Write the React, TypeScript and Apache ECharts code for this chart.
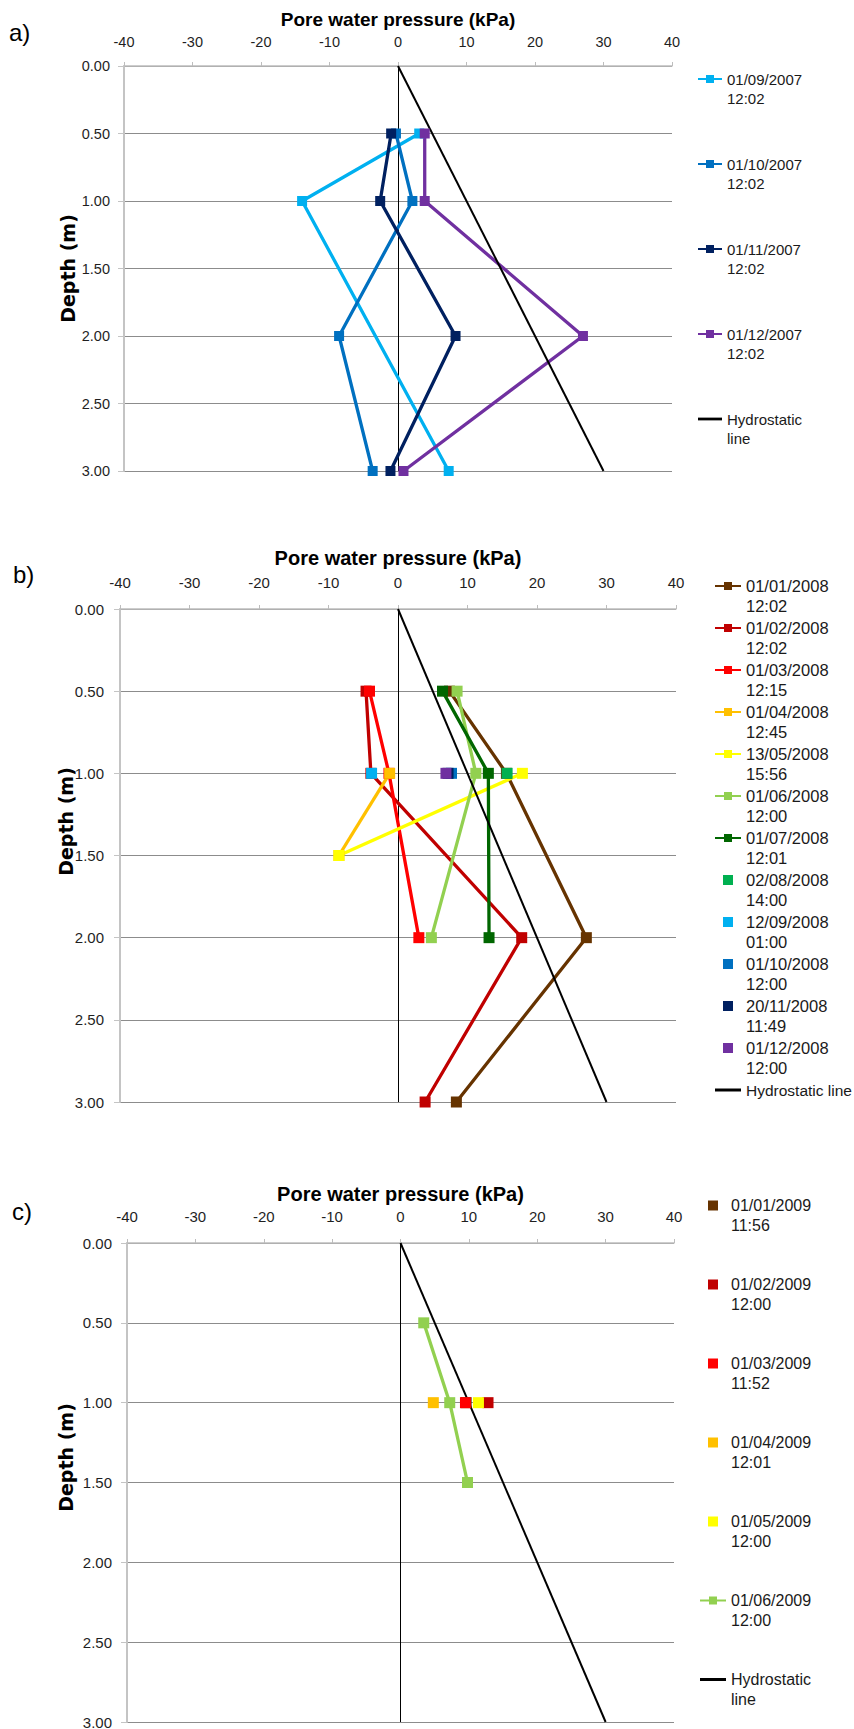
import React, { useEffect, useRef } from 'react';
import * as echarts from 'echarts';

const FONT = "'Liberation Sans', Arial, sans-serif";
const NAME_FONT = "'DejaVu Sans', Verdana, sans-serif";

const X_TITLE = 'Pore water pressure (kPa)';
const Y_TITLE = 'Depth (m)';
const PANEL_LABELS = ['a)', 'b)', 'c)'];

// Hydrostatic line (kPa vs depth m)
const HYDRO_DEPTH = [0, 3];
const HYDRO_PWP = [0, 30];
const ZERO_PWP = 0;
const HYDRO_NAME_2L = 'Hydrostatic\nline';
const HYDRO_NAME_1L = 'Hydrostatic line';

// ---------- panel a ----------
const A_0907_DEPTH = [0.5, 1.0, 3.0];
const A_0907_PWP = [3.1, -14.0, 7.4];
const A_1007_DEPTH = [0.5, 1.0, 2.0, 3.0];
const A_1007_PWP = [-0.3, 2.1, -8.6, -3.7];
const A_1107_DEPTH = [0.5, 1.0, 2.0, 3.0];
const A_1107_PWP = [-1.0, -2.6, 8.4, -1.1];
const A_1207_DEPTH = [0.5, 1.0, 2.0, 3.0];
const A_1207_PWP = [3.9, 3.9, 27.0, 0.8];

// ---------- panel b ----------
const B_0108_DEPTH = [0.5, 1.0, 2.0, 3.0];
const B_0108_PWP = [7.4, 15.6, 27.1, 8.4];
const B_0208_DEPTH = [0.5, 1.0, 2.0, 3.0];
const B_0208_PWP = [-4.6, -3.9, 17.8, 3.9];
const B_0308_DEPTH = [0.5, 1.0, 2.0];
const B_0308_PWP = [-4.1, -1.3, 3.0];
const B_0408_DEPTH = [1.0, 1.5];
const B_0408_PWP = [-1.2, -8.5];
const B_0508_DEPTH = [1.0, 1.5];
const B_0508_PWP = [17.9, -8.5];
const B_0608_DEPTH = [0.5, 1.0, 2.0];
const B_0608_PWP = [8.5, 11.2, 4.8];
const B_0708_DEPTH = [0.5, 1.0, 2.0];
const B_0708_PWP = [6.4, 13.0, 13.1];
const B_0808_DEPTH = [1.0];
const B_0808_PWP = [15.7];
const B_0908_DEPTH = [1.0];
const B_0908_PWP = [-3.8];
const B_1008_DEPTH = [1.0];
const B_1008_PWP = [7.7];
const B_1108_DEPTH = [1.0];
const B_1108_PWP = [7.2];
const B_1208_DEPTH = [1.0];
const B_1208_PWP = [6.9];

// ---------- panel c ----------
const C_0109_DEPTH = [1.0];
const C_0109_PWP = [9.6];
const C_0209_DEPTH = [1.0];
const C_0209_PWP = [12.8];
const C_0309_DEPTH = [1.0];
const C_0309_PWP = [9.5];
const C_0409_DEPTH = [1.0];
const C_0409_PWP = [4.8];
const C_0509_DEPTH = [1.0];
const C_0509_PWP = [11.4];
const C_0609_DEPTH = [0.5, 1.0, 1.5];
const C_0609_PWP = [3.4, 7.2, 9.8];

const zip = (pwp: number[], depth: number[]) => pwp.map((p, i) => [p, depth[i]]);

const SQUARE_ICON = 'path://M0,0H10V10H0Z';
const LINE_ICON = 'path://M0,0H26V3H0Z';

function lineS(name: string, color: string, pwp: number[], depth: number[], gi: number, size: number) {
  return {
    type: 'line', name, xAxisIndex: gi, yAxisIndex: gi, data: zip(pwp, depth),
    symbol: 'rect', symbolSize: size, showSymbol: true, showAllSymbol: true,
    lineStyle: { color, width: 3.3 }, itemStyle: { color },
    emphasis: { disabled: true }, silent: true, z: 3,
  };
}
function dotS(name: string, color: string, pwp: number[], depth: number[], gi: number, size: number) {
  return {
    type: 'scatter', name, xAxisIndex: gi, yAxisIndex: gi, data: zip(pwp, depth),
    symbol: 'rect', symbolSize: size, itemStyle: { color, opacity: 1 },
    emphasis: { disabled: true }, silent: true, z: 3,
  };
}
function hydroS(name: string, gi: number) {
  return {
    type: 'line', name, xAxisIndex: gi, yAxisIndex: gi, data: zip(HYDRO_PWP, HYDRO_DEPTH),
    symbol: 'none', lineStyle: { color: '#000', width: 2 }, itemStyle: { color: '#000' },
    emphasis: { disabled: true }, silent: true, z: 3,
    markLine: {
      silent: true, symbol: ['none', 'none'], label: { show: false }, z: 2,
      lineStyle: { color: '#000', width: 1, type: 'solid' }, emphasis: { disabled: true },
      data: [{ xAxis: ZERO_PWP }],
    },
  };
}

const GRIDS = [
  { left: 124, top: 66, width: 548, height: 405 },
  { left: 120, top: 609, width: 556, height: 493 },
  { left: 127, top: 1243, width: 547, height: 479 },
];
const X_LABEL_MARGIN = [16.5, 19, 19.5];
const X_FONT = [14.5, 15, 15];
const X_NAME_GAP = [37.5, 41.5, 39];
const X_NAME_FONT = [19, 20, 20];
const Y_LABEL_MARGIN = [14, 16, 15];
const Y_NAME_GAP = [46.5, 44.5, 51.5];
const Y_NAME_SHIFT = [0, 68, 50];
const LABEL_POS = [[9, 32], [13, 574], [12, 1211]];

export default function App() {
  const ref = useRef<HTMLDivElement>(null);
  useEffect(() => {
    if (!ref.current) return;
    const chart = echarts.init(ref.current, undefined, { renderer: 'svg' });

    const xAxis = GRIDS.map((_, i) => ({
      type: 'value', gridIndex: i, position: 'top', min: -40, max: 40, interval: 10,
      axisLine: { show: true, onZero: false, lineStyle: { color: '#bdbdbd', width: 1.5 } },
      axisTick: { show: true, length: 4, lineStyle: { color: '#bdbdbd' } },
      axisLabel: { margin: X_LABEL_MARGIN[i], fontSize: X_FONT[i], color: '#1f1f1f', fontFamily: FONT },
      splitLine: { show: false },
      name: X_TITLE, nameLocation: 'middle', nameGap: X_NAME_GAP[i], nameMoveOverlap: false,
      nameTextStyle: { fontFamily: FONT, fontWeight: 'bold', fontSize: X_NAME_FONT[i], color: '#000' },
    }));
    const yAxis = GRIDS.map((_, i) => ({
      type: 'value', gridIndex: i, inverse: true, min: 0, max: 3, interval: 0.5,
      axisLine: { show: true, onZero: false, lineStyle: { color: '#c4c4c4', width: 2 } },
      axisTick: { show: true, length: 6, lineStyle: { color: '#c4c4c4' } },
      axisLabel: { margin: Y_LABEL_MARGIN[i], fontSize: i === 0 ? 14.5 : 15, color: '#1f1f1f', fontFamily: FONT, formatter: (v: number) => v.toFixed(2) },
      splitLine: { show: true, lineStyle: { color: '#8c8c8c', width: 1 } },
      name: Y_TITLE, nameLocation: 'middle', nameGap: Y_NAME_GAP[i], nameRotate: 90, nameMoveOverlap: false,
      nameTextStyle: { fontFamily: NAME_FONT, fontWeight: 'bold', fontSize: 19, color: '#000', padding: [0, 0, 0, Y_NAME_SHIFT[i]] },
    }));

    const A_NAMES = ['01/09/2007\n12:02', '01/10/2007\n12:02', '01/11/2007\n12:02', '01/12/2007\n12:02'];
    const B_NAMES = ['01/01/2008\n12:02', '01/02/2008\n12:02', '01/03/2008\n12:15', '01/04/2008\n12:45', '13/05/2008\n15:56', '01/06/2008\n12:00', '01/07/2008\n12:01', '02/08/2008\n14:00', '12/09/2008\n01:00', '01/10/2008\n12:00', '20/11/2008\n11:49', '01/12/2008\n12:00'];
    const C_NAMES = ['01/01/2009\n11:56', '01/02/2009\n12:00', '01/03/2009\n11:52', '01/04/2009\n12:01', '01/05/2009\n12:00', '01/06/2009\n12:00'];
    const HYDRO_C = HYDRO_NAME_2L + ' ';

    const series = [
      lineS(A_NAMES[0], '#00B0F0', A_0907_PWP, A_0907_DEPTH, 0, 10),
      lineS(A_NAMES[1], '#0070C0', A_1007_PWP, A_1007_DEPTH, 0, 10),
      lineS(A_NAMES[2], '#002060', A_1107_PWP, A_1107_DEPTH, 0, 10),
      lineS(A_NAMES[3], '#7030A0', A_1207_PWP, A_1207_DEPTH, 0, 10),
      hydroS(HYDRO_NAME_2L, 0),

      lineS(B_NAMES[0], '#663300', B_0108_PWP, B_0108_DEPTH, 1, 11),
      lineS(B_NAMES[1], '#C00000', B_0208_PWP, B_0208_DEPTH, 1, 11),
      lineS(B_NAMES[2], '#FF0000', B_0308_PWP, B_0308_DEPTH, 1, 11),
      lineS(B_NAMES[3], '#FFC000', B_0408_PWP, B_0408_DEPTH, 1, 11),
      lineS(B_NAMES[4], '#FFFF00', B_0508_PWP, B_0508_DEPTH, 1, 11),
      lineS(B_NAMES[5], '#92D050', B_0608_PWP, B_0608_DEPTH, 1, 11),
      lineS(B_NAMES[6], '#006600', B_0708_PWP, B_0708_DEPTH, 1, 11),
      dotS(B_NAMES[7], '#00B050', B_0808_PWP, B_0808_DEPTH, 1, 11),
      dotS(B_NAMES[8], '#00B0F0', B_0908_PWP, B_0908_DEPTH, 1, 11),
      dotS(B_NAMES[9], '#0070C0', B_1008_PWP, B_1008_DEPTH, 1, 11),
      dotS(B_NAMES[10], '#002060', B_1108_PWP, B_1108_DEPTH, 1, 11),
      dotS(B_NAMES[11], '#7030A0', B_1208_PWP, B_1208_DEPTH, 1, 11),
      hydroS(HYDRO_NAME_1L, 1),

      dotS(C_NAMES[0], '#663300', C_0109_PWP, C_0109_DEPTH, 2, 11),
      dotS(C_NAMES[1], '#C00000', C_0209_PWP, C_0209_DEPTH, 2, 11),
      dotS(C_NAMES[2], '#FF0000', C_0309_PWP, C_0309_DEPTH, 2, 11),
      dotS(C_NAMES[3], '#FFC000', C_0409_PWP, C_0409_DEPTH, 2, 11),
      dotS(C_NAMES[4], '#FFFF00', C_0509_PWP, C_0509_DEPTH, 2, 11),
      lineS(C_NAMES[5], '#92D050', C_0609_PWP, C_0609_DEPTH, 2, 11),
      hydroS(HYDRO_C, 2),
    ];

    // a leading blank line puts the icon level with the first text line
    const fmt = (n: string) => (n.trim().includes('\n') ? ' \n' + n.trim() : ' \n' + n.trim() + '\n ');
    const legendText = (fs: number, lh: number) => ({
      fontFamily: FONT, fontSize: fs, lineHeight: lh, color: '#1a1a1a',
    });
    const sq = (name: string) => ({ name, icon: SQUARE_ICON });
    const ln = (name: string, extra: any = {}) => ({ name, icon: LINE_ICON, ...extra });

    const legend = [
      {
        orient: 'vertical', left: 697, top: 50.5, padding: 0, itemWidth: 24, itemHeight: 10, itemGap: 28,
        selectedMode: false, formatter: fmt,
        data: [...A_NAMES, ln(HYDRO_NAME_2L)], textStyle: legendText(15, 19),
      },
      {
        orient: 'vertical', left: 714, top: 556, padding: 0, itemWidth: 26, itemHeight: 10, itemGap: -18,
        selectedMode: false, formatter: fmt,
        data: [...B_NAMES.slice(0, 7), ...B_NAMES.slice(7).map(sq), ln(HYDRO_NAME_1L, { textStyle: { fontSize: 15.5 } })],
        textStyle: legendText(16.5, 20),
      },
      {
        orient: 'vertical', left: 699, top: 1175.5, padding: 0, itemWidth: 26, itemHeight: 10, itemGap: 19,
        selectedMode: false, formatter: fmt,
        data: [...C_NAMES.slice(0, 5).map(sq), C_NAMES[5], ln(HYDRO_C)], textStyle: legendText(16, 20),
      },
    ];

    const graphic = PANEL_LABELS.map((t, i) => ({
      type: 'text', x: LABEL_POS[i][0], y: LABEL_POS[i][1],
      style: { text: t, fontFamily: FONT, fontSize: 24, fill: '#000', verticalAlign: 'middle' },
    }));

    chart.setOption({
      animation: false,
      backgroundColor: '#ffffff',
      grid: GRIDS.map((g) => ({ ...g, containLabel: false, outerBoundsMode: 'none' })),
      xAxis, yAxis, series, legend, graphic,
    } as any);
    return () => chart.dispose();
  }, []);
  return <div ref={ref} style={{ position: 'absolute', left: 0, top: 0, width: 854, height: 1729 }} />;
}
